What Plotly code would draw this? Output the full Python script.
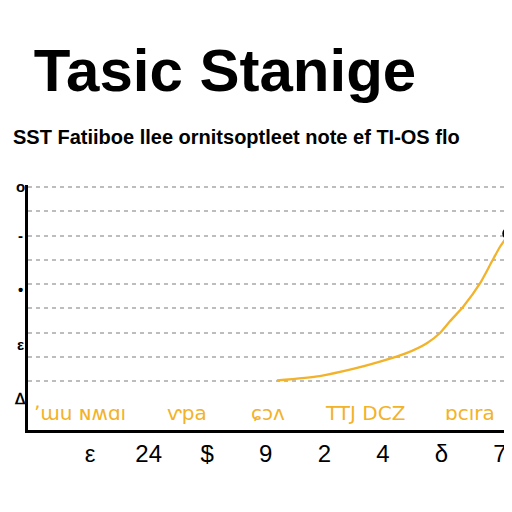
import plotly.graph_objects as go

# data
x_vals = [4.19, 4.92, 5.49, 5.95, 6.40, 6.75, 6.97, 7.14, 7.37, 7.66, 7.86, 8.00, 8.14]
y_vals = [2.04, 2.22, 2.51, 2.81, 3.16, 3.57, 3.98, 4.46, 5.07, 6.04, 6.93, 7.54, 8.02]
end_x = [8.14]
end_y = [8.08]
x_ticks = [1, 2, 3, 4, 5, 6, 7, 8]
x_ticktext = ["ε", "24", "$", "9", "2", "4", "δ", "7"]
grid_vals = [2, 3, 4, 5, 6, 7, 8, 9, 10]
y_mark_vals = [10, 8, 5.8, 3.5, 1.3]
y_mark_text = ["o", "-", "•", "ε", "ᐃ"]
cat_x = [0.83, 2.66, 4.04, 5.69, 7.48]
cat_text = ["ʼɯu ɴʍɑı", "ⱱpa", "ɕɔʌ", "TTJ DCZ", "ɒcıra"]

title_text = "<b>Tasic Stanige</b>"
subtitle_text = "<b>SST Fatiiboe llee ornitsoptleet note ef TI-OS flo</b>"

YELLOW = "#F2B22A"
OFF = 8  # page body margin

fig = go.Figure()
fig.add_trace(go.Scatter(x=x_vals, y=y_vals, mode="lines",
                         line=dict(color=YELLOW, width=2.3, shape="spline", smoothing=0.6),
                         showlegend=False, hoverinfo="skip"))
fig.add_trace(go.Scatter(x=end_x, y=end_y, mode="markers",
                         marker=dict(size=9, color="white", line=dict(color="black", width=3)),
                         showlegend=False, cliponaxis=False, hoverinfo="skip"))

annotations = []
for v, t in zip(y_mark_vals, y_mark_text):
    annotations.append(dict(x=-8 / 482, y=v, xref="paper", yref="y", text="<b>" + t + "</b>", showarrow=False,
                            font=dict(family="Liberation Sans", size=15, color="black"),
                            xanchor="center", yanchor="middle"))
for x, t in zip(cat_x, cat_text):
    annotations.append(dict(x=x, y=0.72, xref="x", yref="y", text=t, showarrow=False,
                            font=dict(family="DejaVu Sans", size=20, color=YELLOW),
                            xanchor="center", yanchor="middle"))
annotations.append(dict(x=(236 - 28) / 482, y=(430 - 137) / 245, xref="paper", yref="paper",
                        text=subtitle_text, showarrow=False,
                        font=dict(family="Liberation Sans", size=20, color="black"),
                        xanchor="center", yanchor="middle"))

fig.update_layout(
    width=512, height=512,
    margin=dict(l=28 - OFF, r=512 - (510 - OFF), t=185 - OFF, b=512 - (430 - OFF), autoexpand=False),
    paper_bgcolor="white", plot_bgcolor="white",
    title=dict(text=title_text, x=(225 - OFF) / 512, xref="container", xanchor="center",
               y=1 - (70 - OFF) / 512, yref="container", yanchor="middle",
               font=dict(family="Liberation Sans", size=60, color="black")),
    xaxis=dict(range=[-0.06, 8.17], tickvals=x_ticks, ticktext=x_ticktext, automargin=False,
               showgrid=False, zeroline=False, showline=True, linecolor="black", linewidth=3,
               ticks="", tickfont=dict(family="Liberation Sans", size=24, color="black")),
    yaxis=dict(range=[0, 10.08], tickvals=grid_vals, showticklabels=False, automargin=False,
               showgrid=True, gridcolor="#bdbdbd", gridwidth=1.5, griddash="4px,4px",
               zeroline=False, showline=True, linecolor="black", linewidth=3, ticks=""),
    annotations=annotations,
)

fig.write_html("out.html")
